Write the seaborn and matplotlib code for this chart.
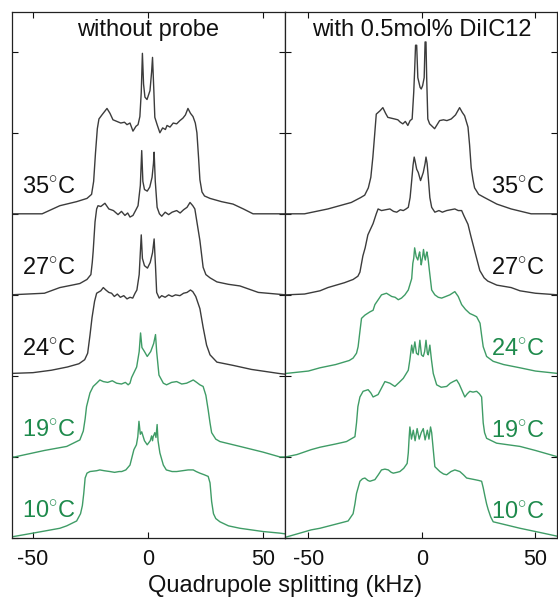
import numpy as np
import matplotlib
matplotlib.use('Agg')
import matplotlib.pyplot as plt
import seaborn as sns

##################################################################
sns.set_theme(style='ticks')
matplotlib.rcParams['font.family'] = ['Liberation Sans', 'DejaVu Sans']
matplotlib.rcParams['mathtext.fontset'] = 'custom'
matplotlib.rcParams['mathtext.rm'] = 'Liberation Sans'
matplotlib.rcParams['axes.unicode_minus'] = False
##################################################################

temperatures = [10, 19, 24, 27, 35]      # bottom -> top
panel_titles = ['without probe', 'with 0.5mol% DiIC12']
xlabel = 'Quadrupole splitting (kHz)'
xticks = [-50, 0, 50]

# (splitting kHz, intensity), intensity in stack units
wo_35 = [(-60, 0.0), (-46, 0.0), (-38.3, 0.10), (-31, 0.15), (-26.5, 0.19), (-24.5, 0.24), (-23.6, 0.40),
         (-22.8, 0.75), (-22.0, 1.05), (-21.3, 1.17), (-20.0, 1.22), (-18.9, 1.26), (-17.8, 1.30), (-16.5, 1.24),
         (-15.2, 1.16), (-13.5, 1.14), (-11.8, 1.12), (-10.2, 1.13), (-9.1, 1.10), (-7.8, 1.12), (-6.5, 1.02),
         (-5.2, 1.08), (-4.3, 1.10), (-3.5, 1.20), (-2.9, 1.50), (-2.4, 1.98), (-1.9, 1.60), (-1.3, 1.44),
         (-0.4, 1.41), (0.9, 1.52), (1.6, 1.75), (2.0, 1.93), (2.6, 1.50), (3.0, 1.19), (4.0, 1.10), (5.2, 1.00),
         (6.4, 1.06), (7.6, 1.04), (8.3, 1.09), (9.6, 1.07), (11.0, 1.12), (12.5, 1.11), (13.9, 1.15), (15.2, 1.18),
         (16.3, 1.22), (17.4, 1.30), (18.5, 1.24), (19.6, 1.20), (20.6, 1.12), (21.3, 1.00), (22.0, 0.70),
         (22.6, 0.42), (23.5, 0.27), (24.6, 0.22), (27.0, 0.19), (32, 0.15), (37, 0.12), (41.5, 0.06),
         (45.7, 0.0), (60, 0.0)]
wo_27 = [(-60, 0.0), (-45, 0.02), (-38.3, 0.09), (-33, 0.12), (-29.6, 0.14), (-26.5, 0.19), (-24.8, 0.25),
         (-24.2, 0.40), (-23.8, 0.54), (-23.0, 0.90), (-22.3, 1.06), (-21.7, 1.10), (-20.5, 1.09), (-18.7, 1.13),
         (-17.0, 1.06), (-15.0, 1.04), (-13.0, 0.99), (-11.5, 1.03), (-10.0, 0.98), (-8.8, 1.01), (-7.8, 0.96),
         (-6.5, 0.98), (-5.2, 1.05), (-4.3, 1.10), (-3.3, 1.35), (-2.7, 1.78), (-2.2, 1.40), (-1.5, 1.30),
         (-0.3, 1.28), (0.8, 1.33), (1.8, 1.45), (2.4, 1.62), (2.7, 1.76), (3.2, 1.40), (4.0, 1.08), (5.0, 1.00),
         (6.0, 0.97), (7.5, 1.02), (9.0, 0.99), (10.5, 1.02), (12.5, 1.04), (14.0, 1.01), (15.5, 1.05),
         (17.0, 1.08), (18.3, 1.14), (19.5, 1.10), (20.4, 1.06), (21.3, 0.90), (22.6, 0.67), (24.0, 0.34),
         (25.2, 0.25), (27.0, 0.21), (30, 0.16), (35, 0.13), (40, 0.11), (48, 0.03), (60, 0.0)]
wo_24 = [(-60, 0.03), (-50, 0.04), (-42, 0.07), (-35, 0.11), (-30, 0.15), (-27.5, 0.20), (-26.2, 0.28),
         (-25.2, 0.50), (-24.3, 0.72), (-23.2, 0.92), (-22.3, 1.02), (-20.5, 1.05), (-19.4, 1.09), (-18.3, 1.06),
         (-17.0, 1.03), (-15.8, 1.02), (-14.6, 0.98), (-13.3, 1.01), (-12.0, 0.97), (-10.5, 0.99), (-9.1, 0.95),
         (-7.8, 0.97), (-6.6, 0.96), (-5.6, 1.02), (-4.8, 1.06), (-3.8, 1.25), (-2.9, 1.74), (-2.4, 1.45),
         (-1.5, 1.36), (-0.2, 1.33), (1.0, 1.40), (2.0, 1.52), (2.7, 1.69), (3.3, 1.35), (3.8, 1.03), (4.9, 0.96),
         (6.0, 0.99), (7.5, 0.97), (9.0, 1.00), (10.5, 0.98), (12.0, 1.00), (13.9, 0.99), (15.5, 1.02),
         (17.0, 1.03), (18.5, 1.06), (19.5, 1.04), (20.8, 0.98), (22.6, 0.83), (24.0, 0.60), (25.5, 0.38),
         (27.0, 0.26), (30.0, 0.17), (37, 0.13), (45, 0.08), (57, 0.03), (60, 0.02)]
wo_19 = [(-60, 0.0), (-58, 0.0), (-45, 0.08), (-35.3, 0.13), (-29.6, 0.21), (-28.1, 0.32), (-27.3, 0.47),
         (-26.7, 0.62), (-25.2, 0.79), (-23.8, 0.87), (-22.3, 0.91), (-20.9, 0.95), (-19.4, 0.93), (-17.5, 0.92),
         (-15.5, 0.94), (-13.6, 0.91), (-11.5, 0.90), (-9.8, 0.92), (-8.6, 0.89), (-7.8, 0.91), (-7.1, 0.98),
         (-4.9, 1.11), (-3.8, 1.30), (-3.2, 1.53), (-2.6, 1.35), (-1.5, 1.30), (-0.3, 1.24), (1.2, 1.30),
         (2.5, 1.40), (3.3, 1.51), (3.8, 1.30), (4.8, 1.01), (6.7, 0.91), (8.1, 0.89), (10.3, 0.92), (12.5, 0.93),
         (14.7, 0.90), (16.8, 0.91), (18.3, 0.93), (19.7, 0.95), (21.2, 0.92), (22.6, 0.89), (24.0, 0.87),
         (25.2, 0.76), (26.2, 0.58), (27.0, 0.42), (27.7, 0.30), (29.5, 0.22), (31.3, 0.19), (40, 0.13),
         (50, 0.06), (57.4, 0.0), (60, 0.0)]
wo_10 = [(-60, 0.01), (-58, 0.02), (-50, 0.06), (-38.3, 0.12), (-35.3, 0.15), (-31, 0.21), (-29.3, 0.30),
         (-28.5, 0.40), (-27.9, 0.55), (-27.3, 0.74), (-26.5, 0.80), (-25.2, 0.82), (-22.3, 0.83), (-20.9, 0.84),
         (-19.0, 0.83), (-16.5, 0.82), (-14.5, 0.81), (-12.5, 0.82), (-11.4, 0.82), (-9.6, 0.84), (-7.8, 0.90),
         (-6.1, 1.09), (-5.0, 1.15), (-4.4, 1.25), (-3.9, 1.44), (-3.3, 1.28), (-2.7, 1.31), (-1.5, 1.20),
         (-0.3, 1.15), (1.0, 1.20), (1.6, 1.26), (2.0, 1.20), (2.3, 1.25), (3.0, 1.30), (3.5, 1.24), (4.0, 1.40),
         (4.4, 1.20), (5.2, 1.05), (6.7, 0.90), (8.0, 0.84), (10.5, 0.82), (12.5, 0.82), (15.0, 0.83),
         (17.5, 0.84), (19.7, 0.84), (21.0, 0.82), (22.6, 0.80), (24.5, 0.78), (26.2, 0.76), (27.0, 0.68),
         (27.7, 0.45), (28.5, 0.30), (29.5, 0.24), (31.3, 0.20), (35, 0.15), (40, 0.12), (50, 0.08),
         (57.4, 0.06), (60, 0.05)]

wp_35 = [(-60, 0.0), (-51.7, 0.0), (-41.4, 0.06), (-31.1, 0.14), (-27, 0.20), (-25.2, 0.23), (-23.6, 0.32),
         (-22.5, 0.45), (-21.6, 0.70), (-20.8, 0.98), (-20.1, 1.23), (-18.5, 1.27), (-17.2, 1.31), (-16.0, 1.24),
         (-15.0, 1.19), (-13.5, 1.18), (-12.0, 1.17), (-10.6, 1.16), (-9.5, 1.13), (-8.4, 1.11), (-7.3, 1.14),
         (-6.2, 1.09), (-5.2, 1.15), (-4.3, 1.17), (-3.6, 1.50), (-3.2, 1.77), (-2.8, 2.08), (-2.3, 2.08),
         (-1.8, 1.68), (-0.8, 1.56), (-0.3, 1.54), (0.3, 1.58), (1.0, 1.68), (1.4, 2.12), (1.8, 2.12),
         (2.1, 1.68), (2.6, 1.17), (3.4, 1.11), (4.5, 1.08), (5.6, 1.05), (6.7, 1.10), (7.8, 1.15), (9.5, 1.16),
         (11.0, 1.15), (12.9, 1.17), (14.8, 1.22), (16.6, 1.31), (17.8, 1.25), (18.8, 1.21), (20.3, 1.07),
         (21.0, 0.85), (21.7, 0.57), (22.5, 0.42), (23.2, 0.32), (25, 0.24), (27.6, 0.20), (33, 0.12),
         (39.3, 0.06), (48.1, 0.0), (60, 0.0)]
wp_27 = [(-60, 0.0), (-51.7, 0.01), (-44.9, 0.05), (-41.4, 0.09), (-34.1, 0.15), (-30.3, 0.19), (-28.2, 0.23),
         (-27.3, 0.28), (-26.0, 0.48), (-25.0, 0.58), (-23.8, 0.74), (-21.5, 0.88), (-20.1, 1.00), (-19.3, 1.06),
         (-17.8, 1.04), (-16.0, 1.05), (-14.1, 1.06), (-12.5, 1.03), (-11.1, 1.02), (-9.5, 1.05), (-8.2, 1.04),
         (-7.0, 1.06), (-6.0, 1.08), (-5.2, 1.20), (-4.5, 1.41), (-3.9, 1.60), (-3.4, 1.70), (-3.0, 1.65),
         (-2.3, 1.55), (-1.6, 1.51), (-0.6, 1.41), (0.6, 1.51), (1.4, 1.62), (1.8, 1.70), (2.3, 1.62),
         (2.8, 1.45), (3.5, 1.20), (4.3, 1.08), (5.7, 1.02), (7.5, 1.04), (9.0, 1.02), (10.9, 1.04), (12.7, 1.05),
         (14.5, 1.06), (16.0, 1.04), (17.5, 1.04), (18.6, 0.97), (20.3, 0.87), (21.6, 0.72), (22.9, 0.58),
         (24.2, 0.44), (25.5, 0.30), (27.4, 0.21), (29, 0.17), (33, 0.12), (39.3, 0.09), (43.2, 0.05),
         (50, 0.02), (60, 0.0)]
wp_24 = [(-60, 0.03), (-50, 0.06), (-44.9, 0.10), (-38, 0.14), (-32, 0.19), (-30.3, 0.22), (-28.8, 0.28),
         (-28.1, 0.36), (-27.3, 0.55), (-26.6, 0.71), (-25.1, 0.75), (-22.9, 0.79), (-21.5, 0.81), (-20.7, 0.88),
         (-19.0, 0.95), (-17.8, 1.00), (-15.6, 1.02), (-13.3, 0.98), (-11.8, 0.97), (-10.4, 0.94), (-9.0, 0.96),
         (-7.5, 1.00), (-6.0, 1.06), (-4.5, 1.20), (-4.0, 1.39), (-3.6, 1.45), (-3.2, 1.58), (-2.5, 1.47),
         (-1.8, 1.43), (-1.3, 1.50), (-1.0, 1.53), (-0.5, 1.42), (-0.3, 1.37), (0.3, 1.47), (0.7, 1.56),
         (1.1, 1.48), (1.5, 1.43), (1.9, 1.50), (2.2, 1.53), (2.7, 1.45), (3.3, 1.30), (4.3, 1.06), (5.7, 1.00),
         (7.2, 0.97), (8.7, 0.96), (10.5, 0.98), (12.3, 1.00), (14.5, 1.04), (16.0, 0.98), (17.5, 0.88),
         (19.2, 0.82), (21.1, 0.77), (22.7, 0.75), (24.1, 0.73), (25.6, 0.65), (26.3, 0.50), (27.0, 0.36),
         (28.5, 0.24), (31.4, 0.18), (36, 0.14), (43.2, 0.10), (50, 0.06), (60, 0.03)]
wp_19 = [(-60, 0.0), (-55, 0.03), (-48.8, 0.09), (-44.9, 0.12), (-38, 0.16), (-33.2, 0.19), (-29.5, 0.25),
         (-28.8, 0.42), (-28.2, 0.62), (-27.3, 0.74), (-25.9, 0.81), (-23.7, 0.83), (-22.5, 0.79), (-21.5, 0.74),
         (-19.3, 0.77), (-17.8, 0.85), (-16.3, 0.93), (-15.2, 0.92), (-14.1, 0.91), (-11.9, 0.87), (-10.0, 0.92),
         (-8.2, 0.97), (-6.0, 1.07), (-5.3, 1.20), (-4.5, 1.38), (-3.9, 1.28), (-3.1, 1.42), (-2.4, 1.28),
         (-1.6, 1.26), (-0.9, 1.44), (-0.2, 1.26), (0.6, 1.24), (1.2, 1.30), (1.8, 1.44), (2.4, 1.28),
         (2.8, 1.26), (3.5, 1.38), (4.2, 1.20), (5.0, 1.03), (6.5, 0.89), (8.5, 0.86), (10.9, 0.87), (12.5, 0.91),
         (13.8, 0.93), (15.3, 0.95), (16.4, 0.90), (17.5, 0.83), (18.9, 0.74), (20.0, 0.78), (21.1, 0.81),
         (22.5, 0.80), (24.1, 0.81), (25.3, 0.78), (26.3, 0.74), (27.0, 0.42), (27.6, 0.30), (28.5, 0.23),
         (32.9, 0.17), (38, 0.15), (43.2, 0.13), (50, 0.08), (55, 0.04), (60, 0.0)]
wp_10 = [(-60, 0.01), (-55, 0.05), (-48.8, 0.10), (-44.9, 0.12), (-38, 0.17), (-32.5, 0.21), (-30.3, 0.30),
         (-29.5, 0.42), (-28.8, 0.55), (-27.3, 0.70), (-26.2, 0.73), (-25.1, 0.74), (-23.8, 0.71), (-22.9, 0.70),
         (-20.7, 0.72), (-19.2, 0.78), (-17.8, 0.84), (-16.3, 0.85), (-14.8, 0.84), (-13.5, 0.81), (-12.6, 0.80),
         (-11.0, 0.81), (-9.7, 0.82), (-8.0, 0.86), (-6.5, 0.92), (-6.0, 1.05), (-5.6, 1.25), (-5.3, 1.37),
         (-4.6, 1.22), (-3.8, 1.33), (-3.0, 1.20), (-2.1, 1.35), (-1.2, 1.22), (-0.3, 1.30), (0.6, 1.35),
         (1.4, 1.21), (2.4, 1.33), (3.1, 1.22), (3.8, 1.37), (4.3, 1.30), (5.0, 1.09), (5.7, 0.88), (7.9, 0.82),
         (9.5, 0.79), (10.9, 0.78), (12.8, 0.82), (14.5, 0.84), (16.7, 0.82), (18.3, 0.78), (19.7, 0.74),
         (21.5, 0.73), (23.3, 0.72), (25.0, 0.71), (26.3, 0.70), (27.0, 0.62), (27.8, 0.51), (28.5, 0.42),
         (29.2, 0.35), (30.3, 0.26), (31.4, 0.20), (37.3, 0.16), (43.2, 0.12), (50, 0.08), (55, 0.05), (60, 0.02)]

without_probe = [wo_10, wo_19, wo_24, wo_27, wo_35]
with_probe = [wp_10, wp_19, wp_24, wp_27, wp_35]
# which temperatures are drawn green
green_without = [10, 19]
green_with = [10, 19, 24]

dark = '#3c3c3c'
green_line = '#3f9c66'
green_text = '#1e8a4c'

############################################################################
fig = plt.figure(figsize=[5.58, 5.99], dpi=100)
ax_l = fig.add_axes([12/558, 1 - 538/599, 273/558, 526/599])
ax_r = fig.add_axes([285/558, 1 - 538/599, 272/558, 526/599])

panels = [(ax_l, without_probe, green_without, (-59.1, 59.6), 'left'),
          (ax_r, with_probe, green_with, (-60.3, 59.5), 'right')]

for p, (ax, spectra, greens, xlim, side) in enumerate(panels):
    for k, (temp, spec) in enumerate(zip(temperatures, spectra)):
        xs = np.array([pt[0] for pt in spec])
        ys = np.array([pt[1] for pt in spec]) + k
        col = green_line if temp in greens else dark
        sns.lineplot(x=xs, y=ys, ax=ax, color=col, linewidth=1.0, sort=False, estimator=None)
        tcol = green_text if temp in greens else '#111111'
        lab = r'%d$^{\circ}$C' % temp
        if side == 'left':
            ax.text(-54.6, k + 0.245, lab, ha='left', va='baseline', fontsize=17, color=tcol)
        else:
            ax.text(54.0, k + 0.235, lab, ha='right', va='baseline', fontsize=17, color=tcol)

    ax.text(0, 6.2, panel_titles[p], ha='center', va='baseline', fontsize=17, color='#111111')
    ax.set_xlim(*xlim)
    ax.set_ylim(0, 6.49)
    ax.set_xticks(xticks)
    ax.set_xticklabels([str(t) for t in xticks])
    ax.set_yticks(range(7))
    ax.set_yticklabels([])
    ax.tick_params(direction='in', top=True, right=True, length=4, width=0.8,
                   labelsize=15.5, pad=8, colors='#111111')
    for s in ax.spines.values():
        s.set_linewidth(0.9)
        s.set_color('#222222')
        s.set_visible(True)

fig.text(285/558, 1 - 592/599, xlabel, ha='center', va='baseline', fontsize=17, color='#111111')

plt.savefig('out.png', dpi=100)
